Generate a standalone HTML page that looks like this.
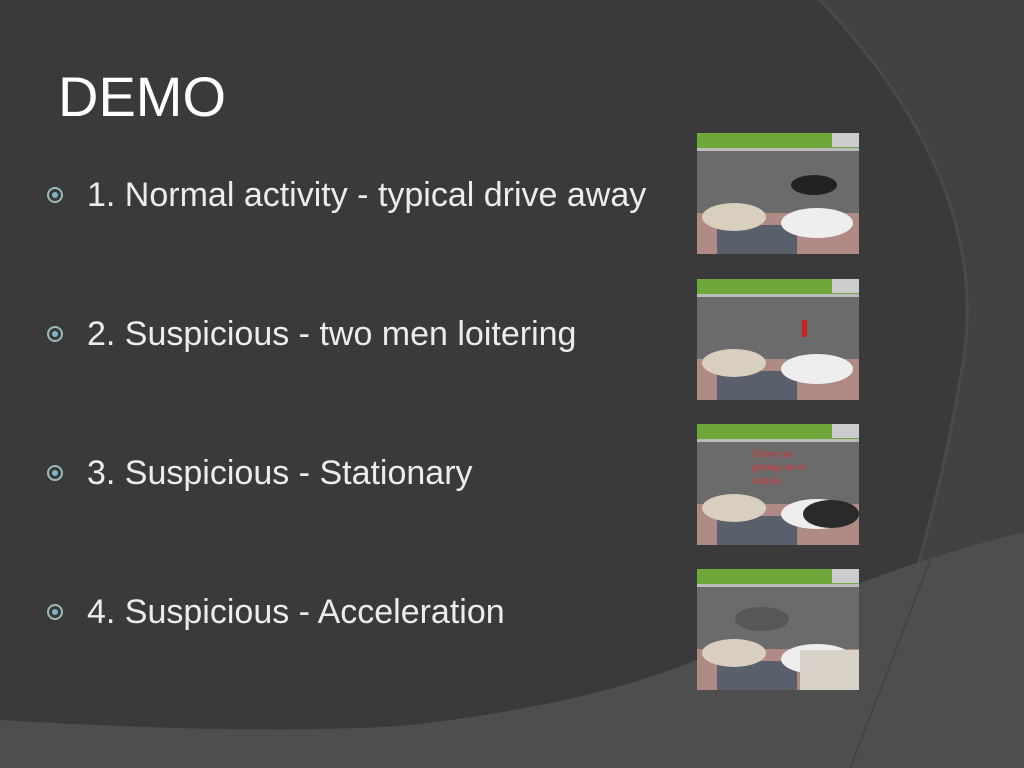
<!DOCTYPE html>
<html><head><style>
html,body{margin:0;padding:0}
body{width:1024px;height:768px;overflow:hidden;background:#3a3a3a;position:relative;font-family:"Liberation Sans",sans-serif}
svg.bg{position:absolute;left:0;top:0}
.t{position:absolute;left:58px;top:62px;font-size:56px;color:#fff;line-height:70px}
.b{position:absolute;left:87px;font-size:34px;color:#ececec;line-height:40px;white-space:nowrap}
.d{position:absolute;left:47px;width:12px;height:12px;border:2px solid #9bb;border-radius:50%;}
.d::after{content:"";position:absolute;left:3px;top:3px;width:6px;height:6px;border-radius:50%;background:#7fb3c8}
</style></head><body>
<svg class="bg" width="1024" height="768">
<path d="M820,0 Q1000,190 960,380 Q930,560 850,768 L1024,768 L1024,0 Z" fill="#424242"/>
<path d="M820,0 Q1000,190 960,380 Q930,560 850,768" fill="none" stroke="#4a4a4a" stroke-width="3"/>
<path d="M0,720 Q250,735 400,726 Q600,705 720,650 Q850,575 1024,532 L1024,768 L0,768 Z" fill="#4e4e4e"/>
<path d="M850,768 Q900,640 930,560" fill="none" stroke="#444" stroke-width="2"/>
<defs>
<g id="img">
<rect width="162" height="121" fill="#6b6b6b"/>
<rect width="162" height="15" fill="#6fa83a"/>
<rect y="15" width="162" height="3" fill="#bbb"/>
<rect y="80" width="162" height="41" fill="#b08a84"/>
<rect x="20" y="92" width="80" height="29" fill="#445566" opacity=".8"/>
<ellipse cx="37" cy="84" rx="32" ry="14" fill="#d8cfbe"/>
<ellipse cx="120" cy="90" rx="36" ry="15" fill="#eee"/>
<rect x="135" y="0" width="27" height="14" fill="#ccc"/>
</g>
</defs>
<use href="#img" x="697" y="133"/>
<use href="#img" x="697" y="279"/>
<use href="#img" x="697" y="424"/>
<use href="#img" x="697" y="569"/>
<ellipse cx="814" cy="185" rx="23" ry="10" fill="#222"/>
<rect x="802" y="320" width="5" height="17" fill="#c22"/>
<ellipse cx="831" cy="514" rx="28" ry="14" fill="#2a2a2a"/>
<ellipse cx="762" cy="619" rx="27" ry="12" fill="#555" opacity=".9"/>
<rect x="800" y="650" width="59" height="40" fill="#d9d2c8"/>
<text x="752" y="457" font-size="10" fill="#d33" font-family="Liberation Serif">Driver not</text>
<text x="752" y="470" font-size="10" fill="#d33" font-family="Liberation Serif">getting out of</text>
<text x="752" y="484" font-size="10" fill="#d33" font-family="Liberation Serif">vehicle</text>
</svg>
<div class="t">DEMO</div>
<div class="d" style="top:187px"></div><div class="b" style="top:175px">1. Normal activity - typical drive away</div>
<div class="d" style="top:326px"></div><div class="b" style="top:314px">2. Suspicious - two men loitering</div>
<div class="d" style="top:465px"></div><div class="b" style="top:453px">3. Suspicious - Stationary</div>
<div class="d" style="top:604px"></div><div class="b" style="top:592px">4. Suspicious - Acceleration</div>
</body></html>
